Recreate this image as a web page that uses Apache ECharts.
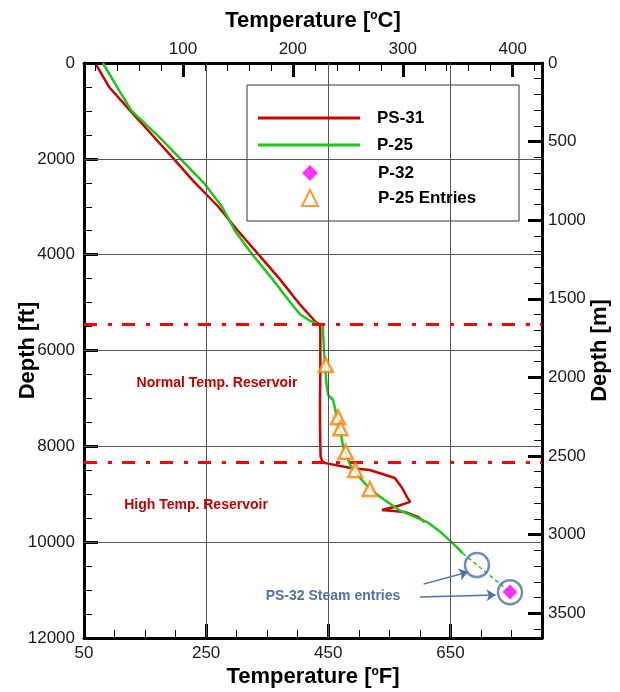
<!DOCTYPE html>
<html><head><meta charset="utf-8">
<script src="https://cdn.jsdelivr.net/npm/echarts@6/dist/echarts.min.js"></script>
<style>html,body{margin:0;padding:0;background:#fff}#c{width:620px;height:692px}</style>
</head><body><div id="c"></div>
<script>
// ---- data ----
const ps31Depth = [40, 500, 1000, 1550, 2000, 2450, 3000, 3500, 4000, 4500, 5000, 5400, 5460, 5600, 6000, 6500, 7000, 7500, 8000, 8216, 8340, 8453, 8495, 8660, 8870, 9080, 9160, 9245, 9330, 9370, 9475, 9580];
const ps31Temp  = [70, 91, 126, 165, 197, 228, 270, 302, 336, 370, 401, 429, 436.5, 437, 437, 437, 436.5, 436.5, 437, 437.5, 441, 487, 518, 559, 571, 580, 584, 564, 538, 575, 597, 608];
const p25Depth = [0, 500, 1000, 1540, 2000, 2500, 3000, 3500, 4000, 4500, 5000, 5250, 5380, 5440, 5480, 6000, 6338, 6700, 6930, 7033, 7380, 7620, 8007, 8453, 8700, 8890, 9100, 9330, 9580, 9800, 10060, 10230];
const p25Temp  = [81, 104, 128, 173, 208, 246, 276, 297, 326, 358, 388, 404, 420, 432, 441, 443, 445, 447, 450, 458, 464, 469, 474.5, 488, 505, 518, 540, 566, 612, 635, 657, 670];
const entryDepth = [6303, 7395, 7625, 8112, 8495, 8890];
const entryTemp  = [446, 466, 470, 478.5, 494, 518];
const p32Depth = [11040];
const p32Temp  = [747.6];
const extrapDepth = [10230, 11040];
const extrapTemp  = [670, 747.6];
const steamDepth = [10477, 11045];
const steamTemp  = [693.5, 747.6];
const reservoirTops = [5450, 8330];
// axis ticks
const fTicks = [50, 250, 450, 650];
const fMinor = [100, 150, 200, 300, 350, 400, 500, 550, 600, 700, 750];
const cTicks = [100, 200, 300, 400];
const cMinor = [20, 40, 60, 80, 120, 140, 160, 180, 220, 240, 260, 280, 320, 340, 360, 380, 420];
const ftTicks = [0, 2000, 4000, 6000, 8000, 10000, 12000];
const ftMinor = [500, 1000, 1500, 2500, 3000, 3500, 4500, 5000, 5500, 6500, 7000, 7500, 8500, 9000, 9500, 10500, 11000, 11500];
const mTicks = [0, 500, 1000, 1500, 2000, 2500, 3000, 3500];
const mMinor = [100, 200, 300, 400, 600, 700, 800, 900, 1100, 1200, 1300, 1400, 1600, 1700, 1800, 1900, 2100, 2200, 2300, 2400, 2600, 2700, 2800, 2900, 3100, 3200, 3300, 3400, 3600];
const gridF = [250, 450, 650];
const gridFt = [2000, 4000, 6000, 8000, 10000];
// arrows (data coords, [temp, depth])
const arrowFrom = [[606, 10876], [600, 11145]];
const arrowTo   = [[679, 10622], [724, 11103]];

const FMIN = 50, FMAX = 800;
const FT_MAX = 12000;
const toC = f => (f - 32) * 5 / 9;
const M_MAX = FT_MAX * 0.3048;
const zip = (xs, ys) => xs.map((x, i) => [x, ys[i]]);

const FONT = 'Liberation Sans, Arial, sans-serif';
const BLUE = '#4f71a6';
const plain = v => String(v);

function majorAxis(extra) {
  return Object.assign({
    type: 'value',
    nameMoveOverlap: false,
    axisLine: { show: true, onZero: false, lineStyle: { color: '#000', width: 3 } },
    splitLine: { show: false },
    nameTextStyle: { fontSize: 22, fontWeight: 'bold', color: '#000', fontFamily: FONT,
      rich: { s: { fontSize: 12, fontWeight: 'bold', verticalAlign: 'top', padding: [0, 0, 10, 0], fontFamily: FONT } } }
  }, extra);
}
function minorAxis(extra) {
  return Object.assign({
    type: 'value',
    axisLine: { show: false, onZero: false },
    axisLabel: { show: false },
    splitLine: { show: false }
  }, extra);
}
const majTick = vals => ({ show: true, inside: true, length: 14, customValues: vals, lineStyle: { color: '#000', width: 3 } });
const minTick = vals => ({ show: true, inside: true, length: 8, customValues: vals, lineStyle: { color: '#000', width: 1 } });
const lab = (vals, margin) => ({ show: true, customValues: vals, formatter: plain, color: '#1a1a1a', fontSize: 17, fontFamily: FONT, margin: margin });

const chart = echarts.init(document.getElementById('c'), null, { renderer: 'canvas' });
chart.setOption({
  animation: false,
  backgroundColor: '#fff',
  grid: { left: 84, right: 78, top: 63, bottom: 54, containLabel: false, outerBoundsMode: 'none' },
  xAxis: [
    majorAxis({ position: 'bottom', min: FMIN, max: FMAX, axisTick: majTick(fTicks), axisLabel: lab(fTicks, 7),
      name: 'Temperature [{s|o}F]', nameLocation: 'middle', nameGap: 28 }),
    majorAxis({ position: 'top', min: toC(FMIN), max: toC(FMAX), axisTick: majTick(cTicks), axisLabel: lab(cTicks, 5),
      name: 'Temperature [{s|o}C]', nameLocation: 'middle', nameGap: 31 }),
    minorAxis({ position: 'bottom', min: FMIN, max: FMAX, axisTick: minTick(fMinor) }),
    minorAxis({ position: 'top', min: toC(FMIN), max: toC(FMAX), axisTick: minTick(cMinor) })
  ],
  yAxis: [
    majorAxis({ position: 'left', min: 0, max: FT_MAX, inverse: true, axisTick: majTick(ftTicks), axisLabel: lab(ftTicks, 9),
      name: 'Depth [ft]', nameLocation: 'middle', nameGap: 45 }),
    majorAxis({ position: 'right', min: 0, max: M_MAX, inverse: true, axisTick: majTick(mTicks), axisLabel: lab(mTicks, 6),
      name: 'Depth [m]', nameLocation: 'middle', nameGap: 47 }),
    minorAxis({ position: 'left', min: 0, max: FT_MAX, inverse: true, axisTick: minTick(ftMinor) }),
    minorAxis({ position: 'right', min: 0, max: M_MAX, inverse: true, axisTick: minTick(mMinor) })
  ],
  legend: [
    {
      data: [{ name: 'PS-31', icon: 'rect' }, { name: 'P-25', icon: 'rect' }],
      orient: 'vertical', left: 258, top: 109, z: 10, padding: 0,
      itemWidth: 102, itemHeight: 3, itemGap: 9,
      textStyle: { fontSize: 17, fontWeight: 'bold', color: '#000', fontFamily: FONT, lineHeight: 18, padding: [0, 0, 0, 12] }
    },
    {
      data: ['P-32', 'P-25 Entries'],
      orient: 'vertical', left: 301, top: 164, z: 10, padding: 0,
      itemWidth: 16, itemHeight: 16, itemGap: 7,
      textStyle: { fontSize: 17, fontWeight: 'bold', color: '#000', fontFamily: FONT, lineHeight: 18, padding: [0, 0, 0, 55] }
    }
  ],
  graphic: [
    { type: 'rect', z: 5, shape: { x: 247, y: 85, width: 272, height: 136 }, style: { fill: '#fff', stroke: '#333', lineWidth: 1 } },
    { type: 'text', z: 6, x: 217, y: 383, style: { text: 'Normal Temp. Reservoir', fill: '#c00000', font: 'bold 14px ' + FONT, textAlign: 'center', textVerticalAlign: 'middle' } },
    { type: 'text', z: 6, x: 196, y: 505, style: { text: 'High Temp. Reservoir', fill: '#c00000', font: 'bold 14px ' + FONT, textAlign: 'center', textVerticalAlign: 'middle' } },
    { type: 'text', z: 6, x: 333, y: 596, style: { text: 'PS-32 Steam entries', fill: BLUE, font: 'bold 14px ' + FONT, textAlign: 'center', textVerticalAlign: 'middle' } }
  ],
  series: [
    { // grid lines
      type: 'line', name: 'grid', data: [], silent: true, z: 1,
      markLine: { silent: true, symbol: 'none', label: { show: false }, animation: false,
        lineStyle: { color: '#555', width: 1, type: 'solid' },
        data: gridF.map(v => ({ xAxis: v })).concat(gridFt.map(v => ({ yAxis: v }))) }
    },
    { // reservoir boundaries
      type: 'line', name: 'bounds', data: [], silent: true, z: 3,
      markLine: { silent: true, symbol: 'none', label: { show: false }, animation: false,
        lineStyle: { color: '#ff0000', width: 3, type: [13, 11, 4, 10] },
        data: reservoirTops.map(v => ({ yAxis: v })) }
    },
    { type: 'line', name: 'PS-31', data: zip(ps31Temp, ps31Depth), symbol: 'none', showSymbol: false, z: 3,
      lineStyle: { color: '#cc0000', width: 2.5 }, itemStyle: { color: '#cc0000' } },
    { type: 'line', name: 'P-25', data: zip(p25Temp, p25Depth), symbol: 'none', showSymbol: false, z: 4,
      lineStyle: { color: '#19c819', width: 2.5 }, itemStyle: { color: '#19c819' } },
    { type: 'line', name: 'extrap', data: zip(extrapTemp, extrapDepth), symbol: 'none', showSymbol: false, z: 4,
      lineStyle: { color: '#19c819', width: 1.5, type: [4, 3] } },
    { type: 'scatter', name: 'steam', data: zip(steamTemp, steamDepth), symbol: 'circle', symbolSize: 24, z: 5,
      itemStyle: { color: 'rgba(0,0,0,0)', borderColor: BLUE, borderWidth: 2.5 } },
    { type: 'scatter', name: 'P-32', data: zip(p32Temp, p32Depth), symbol: 'diamond', symbolSize: 15, z: 6,
      itemStyle: { color: '#ff00ff' } },
    { type: 'scatter', name: 'P-25 Entries', data: zip(entryTemp, entryDepth), symbol: 'triangle', symbolSize: 14, z: 6,
      itemStyle: { color: '#fff', borderColor: '#ff8000', borderWidth: 2.5 } },
    { type: 'line', name: 'arrows', data: [], silent: true, z: 5,
      markLine: { silent: true, symbol: ['none', 'arrow'], symbolSize: 9, label: { show: false }, animation: false,
        lineStyle: { color: BLUE, width: 1.5, type: 'solid' },
        data: arrowFrom.map((p, i) => [{ coord: p }, { coord: arrowTo[i] }]) } }
  ]
});
</script>
</body></html>
